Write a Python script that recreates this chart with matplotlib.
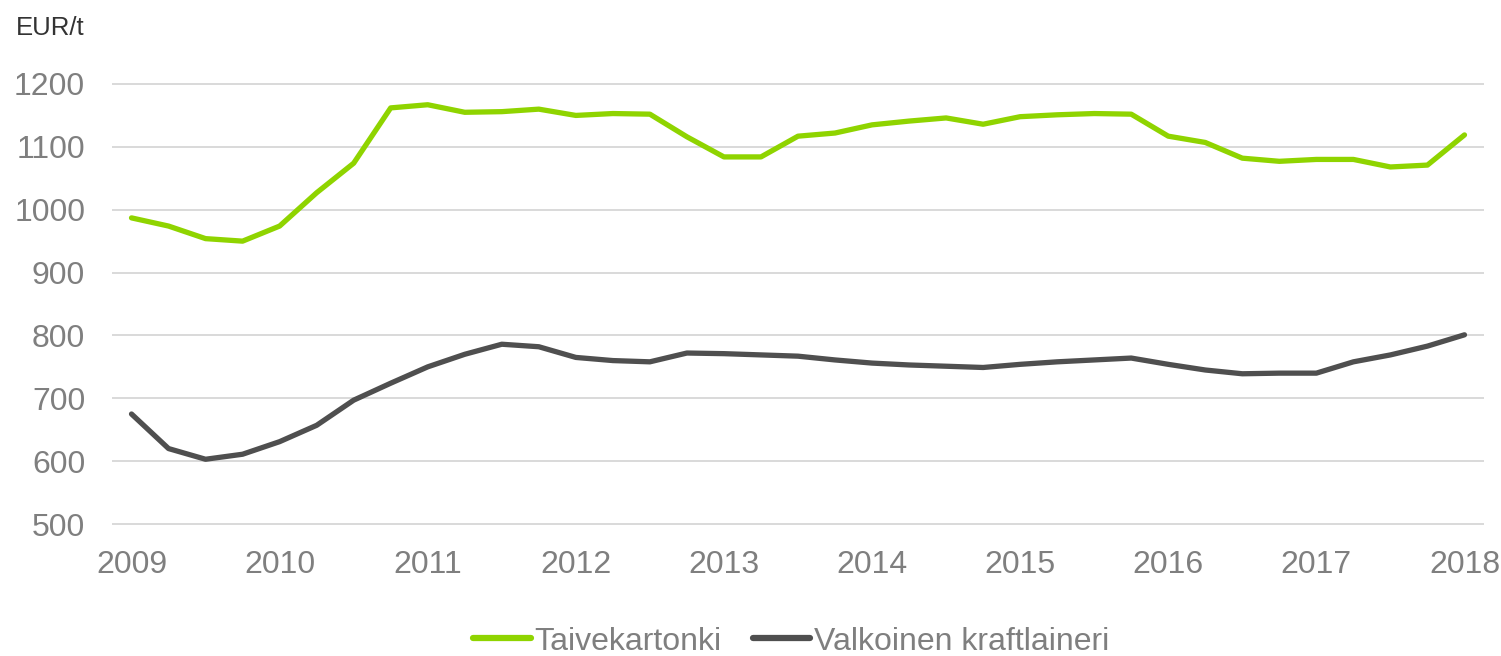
import matplotlib
matplotlib.use('Agg')
import matplotlib.pyplot as plt
import numpy as np

plt.rcParams['font.family'] = ['Liberation Sans', 'DejaVu Sans']

# quarterly prices 2009Q1 .. 2018Q1
taivekartonki = [987, 974, 954, 950, 974, 1027, 1074, 1162, 1167, 1155, 1156, 1160,
                 1150, 1153, 1152, 1116, 1084, 1084, 1117, 1122, 1135, 1141, 1146, 1136,
                 1148, 1151, 1153, 1152, 1117, 1107, 1082, 1077, 1080, 1080, 1068, 1071,
                 1119]
kraftlaineri = [675, 620, 603, 611, 631, 657, 697, 724, 750, 770, 786, 782,
                765, 760, 758, 772, 771, 769, 767, 761, 756, 753, 751, 749,
                754, 758, 761, 764, 754, 745, 739, 740, 740, 758, 769, 783,
                801]
years = ['2009', '2010', '2011', '2012', '2013', '2014', '2015', '2016', '2017', '2018']
yticks = [500, 600, 700, 800, 900, 1000, 1100, 1200]

green = '#8fd400'
dark = '#4f4f4f'
grey_text = '#7f7f7f'

fig = plt.figure(figsize=(15.01, 6.56), dpi=100)
ax = fig.add_axes([113 / 1501, 132 / 656, 1370 / 1501, 440 / 656])

x = np.arange(len(taivekartonki))
ax.plot(x, taivekartonki, color=green, linewidth=3.8, label='Taivekartonki',
        solid_capstyle='round', solid_joinstyle='round')
ax.plot(x, kraftlaineri, color=dark, linewidth=3.8, label='Valkoinen kraftlaineri',
        solid_capstyle='round', solid_joinstyle='round')

ax.set_xlim(-0.5, len(x) - 0.5)
ax.set_ylim(500, 1200)
ax.set_xticks(np.arange(0, len(x), 4))
ax.set_xticklabels(years)
ax.set_yticks(yticks)

for s in ax.spines.values():
    s.set_visible(False)
ax.tick_params(axis='both', length=0, labelsize=23, labelcolor=grey_text)
ax.tick_params(axis='x', pad=19)
ax.tick_params(axis='y', pad=20)
ax.grid(axis='y', color='#d9d9d9', linewidth=1.4)
ax.set_axisbelow(True)
for gl in ax.yaxis.get_gridlines():
    gl.set_clip_on(False)

fig.text(16 / 1501, 1 - 28 / 656, 'EUR/t', fontsize=18.5, color='#333333',
         va='center', ha='left')

leg = fig.legend(loc='center', bbox_to_anchor=(791 / 1501, 14.5 / 656), ncol=2,
                 frameon=False, fontsize=23, handlelength=1.8, handletextpad=0.1,
                 columnspacing=1.0, labelcolor=grey_text)
for h in leg.get_lines():
    h.set_linewidth(4.5)

fig.savefig('out.png', dpi=100)
